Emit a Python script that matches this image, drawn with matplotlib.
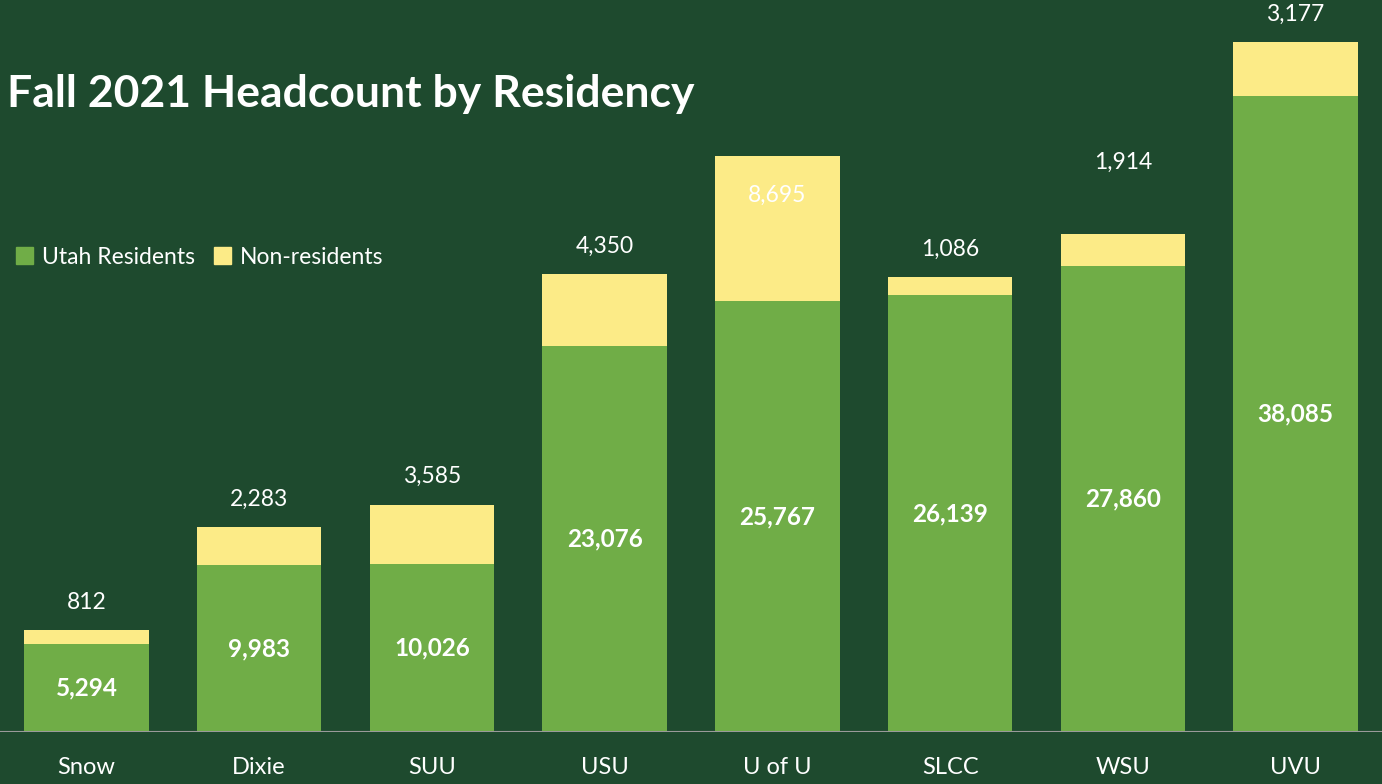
import matplotlib
matplotlib.use("Agg")
import matplotlib.pyplot as plt
from matplotlib.patches import Patch

schools = ["Snow", "Dixie", "SUU", "USU", "U of U", "SLCC", "WSU", "UVU"]
residents = [5294, 9983, 10026, 23076, 25767, 26139, 27860, 38085]
non_residents = [812, 2283, 3585, 4350, 8695, 1086, 1914, 3177]

BG = "#1E4A2E"
GREEN = "#70AD47"
YELLOW = "#FCEB87"

plt.rcParams["font.family"] = ["Lato", "DejaVu Sans"]

fig = plt.figure(figsize=(13.82, 7.84), dpi=100, facecolor=BG)
ax = fig.add_axes([0, 0.0663, 1, 0.9337], facecolor=BG)

x = range(len(schools))
ax.bar(x, residents, width=0.72, color=GREEN, zorder=2)
ax.bar(x, non_residents, width=0.72, bottom=residents, color=YELLOW, zorder=2)

ax.set_xlim(-0.5, len(schools) - 0.5)
ax.set_ylim(0, 43800)
ax.axhline(0, color="#9a9a9a", lw=1.5, zorder=3)

for i, (r, n) in enumerate(zip(residents, non_residents)):
    ax.text(i, r / 2, f"{r:,}", ha="center", va="center", color="white",
            fontsize=17.5, fontweight="bold", zorder=4)
    top = r + n
    if schools[i] == "U of U":
        ax.annotate(f"{n:,}", (i, top), xytext=(0, -28), textcoords="offset points",
                    ha="center", va="center", color="white", fontsize=16.5, zorder=4)
    else:
        off = 52 if schools[i] == "WSU" else 20
        ax.annotate(f"{n:,}", (i, top), xytext=(0, off), textcoords="offset points",
                    ha="center", va="center", color="white", fontsize=16.5, zorder=4)

ax.set_xticks(list(x))
ax.set_xticklabels(schools, color="white", fontsize=17)
ax.tick_params(axis="x", length=0, pad=18)
ax.set_yticks([])
for s in ax.spines.values():
    s.set_visible(False)

fig.text(0.005, 0.88, "Fall 2021 Headcount by Residency", color="white",
         fontsize=32, fontweight="bold", ha="left", va="center")

handles = [Patch(color=GREEN, label="Utah Residents"),
           Patch(color=YELLOW, label="Non-residents")]
fig.legend(handles=handles, loc="center left", bbox_to_anchor=(0.0, 0.672),
           ncol=2, frameon=False, fontsize=16.5, labelcolor="white",
           handlelength=0.75, handleheight=0.75, handletextpad=0.4,
           columnspacing=0.8, borderpad=0.2)

fig.savefig("out.png", dpi=100, facecolor=BG)
